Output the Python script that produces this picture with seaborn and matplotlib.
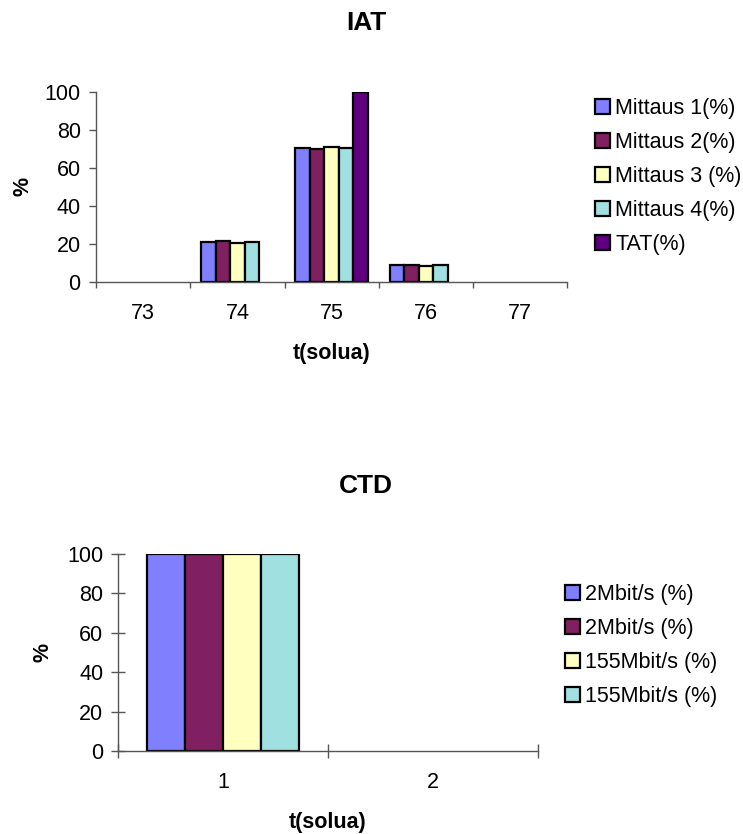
import numpy as np
import pandas as pd
import matplotlib
matplotlib.use('Agg')
import matplotlib.pyplot as plt
from matplotlib.patches import Patch
import seaborn as sns

# IAT data
iat_times = ['73', '74', '75', '76', '77']
iat_series = ['Mittaus 1(%)', 'Mittaus 2(%)', 'Mittaus 3 (%)', 'Mittaus 4(%)', 'TAT(%)']
mittaus1 = [0, 21, 70.5, 9, 0]
mittaus2 = [0, 21.5, 70, 9, 0]
mittaus3 = [0, 20.5, 71, 8.5, 0]
mittaus4 = [0, 21, 70.5, 9, 0]
tat = [0, 0, 100, 0, 0]
iat_colors = ['#8080FF', '#802060', '#FFFFC0', '#A0E0E0', '#600080']

# CTD data
ctd_times = ['1', '2']
ctd_series = ['2Mbit/s (%)', '2Mbit/s (%)', '155Mbit/s (%)', '155Mbit/s (%)']
ctd_2mbit_a = [100, 0]
ctd_2mbit_b = [100, 0]
ctd_155mbit_a = [100, 0]
ctd_155mbit_b = [100, 0]
ctd_colors = ['#8080FF', '#802060', '#FFFFC0', '#A0E0E0']

yticks = [0, 20, 40, 60, 80, 100]

FS = 15.5
TITLE_FS = 19
AXIS_COLOR = '#555555'


def to_long(times, series_values):
    rows = []
    for sid, vals in enumerate(series_values):
        for t, v in zip(times, vals):
            rows.append({'t': t, 'value': v, 'series': f's{sid}'})
    return pd.DataFrame(rows)


def draw_bars(ax, times, series_values, colors):
    df = to_long(times, series_values)
    n = len(series_values)
    hue_order = [f's{i}' for i in range(n)]
    sns.barplot(data=df, x='t', y='value', hue='series', order=times,
                hue_order=hue_order, palette=colors, width=n / (n + 1.5),
                saturation=1, edgecolor='black', linewidth=1.6,
                errorbar=None, legend=False, ax=ax)
    # zero-height bars should not leave an outline on the axis
    for p in ax.patches:
        if p.get_height() == 0:
            p.set_linewidth(0)


def style_axes(ax, n_cat, tick_dir, ytick_len, xtick_len, ylabelpad):
    ax.set_xlim(-0.5, n_cat - 0.5)
    ax.set_ylim(0, 100)
    ax.set_yticks(yticks)
    for side in ['top', 'right']:
        ax.spines[side].set_visible(False)
    for side in ['left', 'bottom']:
        ax.spines[side].set_color(AXIS_COLOR)
        ax.spines[side].set_linewidth(1.0)
    ax.set_xticks(np.arange(-0.5, n_cat, 1), minor=True)
    ax.tick_params(axis='x', which='major', bottom=True, length=0, pad=15,
                   labelsize=FS, labelcolor='black')
    ax.tick_params(axis='x', which='minor', bottom=True, length=xtick_len,
                   direction=tick_dir, color=AXIS_COLOR, width=1.0)
    ax.tick_params(axis='y', which='major', left=True, length=ytick_len,
                   direction=tick_dir, color=AXIS_COLOR, width=1.0, pad=6,
                   labelsize=FS, labelcolor='black')
    ax.set_xlabel('t(solua)', fontsize=FS, fontweight='bold', labelpad=14,
                  color='black')
    ax.set_ylabel('%', fontsize=FS, fontweight='bold', labelpad=ylabelpad,
                  color='black')


def add_legend(fig, labels, colors, x, y):
    handles = [Patch(facecolor=c, edgecolor='black', linewidth=1.6) for c in colors]
    fig.legend(handles, labels, loc='upper left', bbox_to_anchor=(x, y),
               frameon=False, borderpad=0, borderaxespad=0,
               handlelength=0.68, handleheight=0.68, handletextpad=0.25,
               labelspacing=0.6, fontsize=FS, labelcolor='black')


def main():
    sns.set_style('white')
    plt.rcParams['font.family'] = ['Liberation Sans', 'DejaVu Sans']
    plt.rcParams['text.color'] = 'black'

    fig = plt.figure(figsize=(7.43, 8.34), dpi=100)

    ax1 = fig.add_axes([0.1292, 0.6622, 0.6343, 0.2278])
    draw_bars(ax1, iat_times, [mittaus1, mittaus2, mittaus3, mittaus4, tat], iat_colors)
    style_axes(ax1, len(iat_times), 'out', 5, 4.5, 8)

    ax2 = fig.add_axes([0.1592, 0.0995, 0.5645, 0.2362])
    draw_bars(ax2, ctd_times, [ctd_2mbit_a, ctd_2mbit_b, ctd_155mbit_a, ctd_155mbit_b], ctd_colors)
    style_axes(ax2, len(ctd_times), 'inout', 9.5, 9.5, 10)

    fig.text(366 / 743, 1 - 23 / 834, 'IAT', ha='center', va='center',
             fontsize=TITLE_FS, fontweight='bold')
    fig.text(366 / 743, 1 - 486 / 834, 'CTD', ha='center', va='center',
             fontsize=TITLE_FS, fontweight='bold')

    add_legend(fig, iat_series, iat_colors, 595 / 743, 1 - 98 / 834)
    add_legend(fig, ctd_series, ctd_colors, 565 / 743, 1 - 584 / 834)

    fig.savefig('out.png', dpi=100)
    plt.close(fig)


if __name__ == "__main__":
    main()
